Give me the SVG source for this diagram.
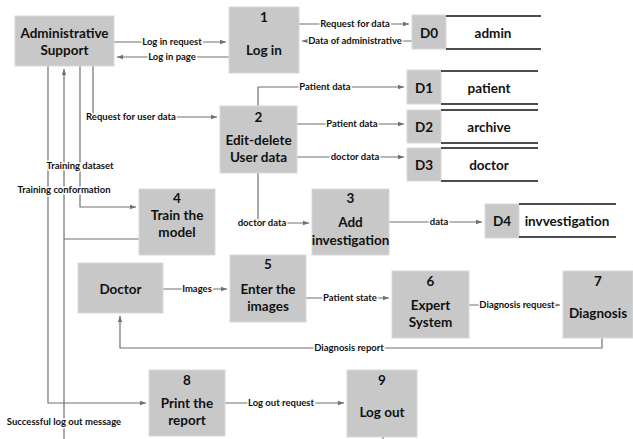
<svg xmlns="http://www.w3.org/2000/svg" width="633" height="439" viewBox="0 0 633 439">
<defs>
<marker id="ah" viewBox="0 0 6 6" refX="6" refY="3" markerWidth="6" markerHeight="6" orient="auto" markerUnits="userSpaceOnUse">
<path d="M0,0.8 L6,3 L0,5.2 Z" fill="#707070"/>
</marker>
<style>
.box{fill:#c8c8c8;stroke:#d9d9d9;stroke-width:1}
.t{font-family:Lato,"Liberation Sans",sans-serif;font-weight:bold;font-size:13.5px;fill:#111;text-anchor:middle}
.l{font-family:Lato,"Liberation Sans",sans-serif;font-weight:bold;font-size:9.5px;fill:#111;text-anchor:middle;stroke:#fff;stroke-width:3px;paint-order:stroke}
.c{fill:none;stroke:#707070;stroke-width:1.2}
.a{marker-end:url(#ah)}
.sl{stroke:#111;stroke-width:1.5}
</style>
</defs>
<g id="connectors">
<path class="c a" d="M114,42 H226"/>
<path class="c a" d="M229,57 H117"/>
<path class="c a" d="M299,24 H409"/>
<path class="c a" d="M412,41 H302"/>
<path class="c a" d="M93,66 V117 H217"/>
<path class="c a" d="M258,106 V87 H404"/>
<path class="c a" d="M297,124 H404"/>
<path class="c a" d="M297,157 H404"/>
<path class="c a" d="M258,173 V223 H309"/>
<path class="c a" d="M389,222 H482"/>
<path class="c a" d="M80,66 V207 H136"/>
<path class="c a" d="M64,439 V69"/>
<path class="c" d="M64,239 H139"/>
<path class="c a" d="M48,66 V403 H146"/>
<path class="c a" d="M163,289 H227"/>
<path class="c a" d="M306,298 H389"/>
<path class="c a" d="M469,305 H560"/>
<path class="c a" d="M602,338 V348 H120 V316"/>
<path class="c a" d="M225,403 H344"/>
<path class="c" d="M383,437 V439"/>
<text class="l" x="172" y="45">Log in request</text>
<text class="l" x="172" y="60">Log in page</text>
<text class="l" x="355" y="27">Request for data</text>
<text class="l" x="355" y="44">Data of administrative</text>
<text class="l" x="131" y="120">Request for user data</text>
<text class="l" x="325" y="90">Patient data</text>
<text class="l" x="352" y="127">Patient data</text>
<text class="l" x="355" y="160">doctor data</text>
<text class="l" x="262" y="226">doctor data</text>
<text class="l" x="439" y="225">data</text>
<text class="l" x="80" y="169">Training dataset</text>
<text class="l" x="64" y="193">Training conformation</text>
<text class="l" x="64" y="425">Successful log out message</text>
<text class="l" x="197" y="292">Images</text>
<text class="l" x="350" y="301">Patient state</text>
<text class="l" x="517" y="308">Diagnosis request</text>
<text class="l" x="349" y="351">Diagnosis report</text>
<text class="l" x="281" y="406">Log out request</text>
</g>
<g id="admin-support">
<rect class="box" x="15" y="16" width="99" height="50"/>
<text class="t" x="64.5" y="38">Administrative</text>
<text class="t" x="64.5" y="55">Support</text>
</g>
<g id="p1">
<rect class="box" x="229" y="7" width="70" height="66"/>
<text class="t" x="264" y="22">1</text>
<text class="t" x="264" y="55">Log in</text>
</g>
<g id="d0">
<rect class="box" x="412" y="15" width="34" height="34"/>
<line class="sl" x1="446" y1="16" x2="541" y2="16"/>
<line class="sl" x1="446" y1="49" x2="541" y2="49"/>
<text class="t" x="429" y="38">D0</text>
<text class="t" x="493" y="38">admin</text>
</g>
<g id="d1">
<rect class="box" x="407" y="70" width="34" height="34"/>
<line class="sl" x1="441" y1="71" x2="538" y2="71"/>
<line class="sl" x1="441" y1="104" x2="538" y2="104"/>
<text class="t" x="424" y="93">D1</text>
<text class="t" x="489" y="93">patient</text>
</g>
<g id="d2">
<rect class="box" x="407" y="110" width="34" height="33"/>
<line class="sl" x1="441" y1="110" x2="538" y2="110"/>
<line class="sl" x1="441" y1="143" x2="538" y2="143"/>
<text class="t" x="424" y="132">D2</text>
<text class="t" x="489" y="132">archive</text>
</g>
<g id="d3">
<rect class="box" x="407" y="148" width="34" height="33"/>
<line class="sl" x1="441" y1="148" x2="538" y2="148"/>
<line class="sl" x1="441" y1="181" x2="538" y2="181"/>
<text class="t" x="424" y="170">D3</text>
<text class="t" x="489" y="170">doctor</text>
</g>
<g id="p2">
<rect class="box" x="220" y="106" width="77" height="67"/>
<text class="t" x="258.5" y="122">2</text>
<text class="t" x="258.5" y="145">Edit-delete</text>
<text class="t" x="258.5" y="162">User data</text>
</g>
<g id="p4">
<rect class="box" x="139" y="189" width="76" height="66"/>
<text class="t" x="177" y="203">4</text>
<text class="t" x="177" y="220">Train the</text>
<text class="t" x="177" y="237">model</text>
</g>
<g id="p3">
<rect class="box" x="312" y="189" width="77" height="66"/>
<text class="t" x="350.5" y="203">3</text>
<text class="t" x="350.5" y="227">Add</text>
<text class="t" x="350.5" y="245">investigation</text>
</g>
<g id="d4">
<rect class="box" x="485" y="204" width="34" height="34"/>
<line class="sl" x1="519" y1="204" x2="616" y2="204"/>
<line class="sl" x1="519" y1="237" x2="616" y2="237"/>
<text class="t" x="502" y="226">D4</text>
<text class="t" x="567" y="226">invvestigation</text>
</g>
<g id="doctor">
<rect class="box" x="78" y="263" width="85" height="50"/>
<text class="t" x="120.5" y="294">Doctor</text>
</g>
<g id="p5">
<rect class="box" x="230" y="255" width="76" height="67"/>
<text class="t" x="268" y="269">5</text>
<text class="t" x="268" y="294">Enter the</text>
<text class="t" x="268" y="311">images</text>
</g>
<g id="p6">
<rect class="box" x="392" y="271" width="77" height="67"/>
<text class="t" x="430.5" y="286">6</text>
<text class="t" x="430.5" y="310">Expert</text>
<text class="t" x="430.5" y="327">System</text>
</g>
<g id="p7">
<rect class="box" x="563" y="271" width="70" height="67"/>
<text class="t" x="598" y="286">7</text>
<text class="t" x="598" y="318">Diagnosis</text>
</g>
<g id="p8">
<rect class="box" x="149" y="370" width="76" height="66"/>
<text class="t" x="187" y="385">8</text>
<text class="t" x="187" y="408">Print the</text>
<text class="t" x="187" y="425">report</text>
</g>
<g id="p9">
<rect class="box" x="347" y="370" width="70" height="67"/>
<text class="t" x="382" y="385">9</text>
<text class="t" x="382" y="417">Log out</text>
</g>
</svg>
